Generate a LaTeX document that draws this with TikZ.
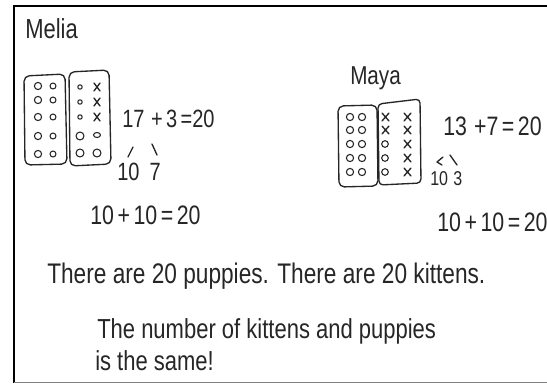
\documentclass[tikz,border=0pt]{standalone}
\usepackage{fontspec}
\setmainfont{Liberation Sans}
\newcommand{\tallt}[1]{\scalebox{1}[1.25]{#1}}
\begin{document}
\begin{tikzpicture}[x=0.75pt,y=-0.75pt,
  hw/.style={inner sep=0pt, anchor=base west, text=black!85},
  big/.style={hw, font=\fontsize{17}{20}\selectfont},
  mid/.style={hw, font=\fontsize{16.5}{20}\selectfont},
  num/.style={hw, font=\fontsize{15}{18}\selectfont},
  pen/.style={line width=1pt, black!85, line cap=round, line join=round},
  ring/.style={pen, line width=0.8pt},
]
\useasboundingbox (0,0) rectangle (547,383);
\fill[white] (0,0) rectangle (547,383);
% frame
\draw[line width=1.8pt, black] (14,383) -- (14,6) -- (547,6);
\draw[line width=0.8pt, gray] (14,382.5) -- (547,382.5);

% ---------- Melia ----------
\node[hw, font=\fontsize{16.5}{20}\selectfont] (melia) at (25,38) {\tallt{Melia}};
\draw[pen, rounded corners=4pt] (24,76) -- (65,74) -- (67,164) -- (25,165) -- cycle;
\draw[pen, rounded corners=4pt] (69,72) -- (109,70) -- (111,164) -- (70,166) -- cycle;
% box 1 circles
\foreach \y in {86,100,117,136,154} {
  \draw[ring] (38,\y) circle (3.6);
  \draw[ring] (53,\y) circle (3.0);
}
% box 2
\foreach \y in {87,102,117} {
  \draw[ring] (80,\y) circle (2.2);
  \draw[pen] (94,\y-4) -- (100,\y+4) (100,\y-4) -- (94,\y+4);
}
\draw[ring] (80,136) circle (4);
\draw[ring] (97,135) ellipse (3.5 and 2.5);
\draw[ring] (80,153) circle (4);
\draw[ring] (97,153) circle (4);

\node[num] (eqA) at (122,127) {\tallt{17\,\,+\,3\,=20}};
\coordinate (la1) at (128,157);
\coordinate (la2) at (133,147);
\coordinate (lb1) at (152,144);
\coordinate (lb2) at (157,155);
\draw[pen] (la1) -- (la2);
\draw[pen] (lb1) -- (lb2);
\node[num] (tenA) at (117,180) {\tallt{10\,\,\,7}};
\node[num, font=\fontsize{16}{19}\selectfont] (sumA) at (90,224) {\tallt{10\,+\,10\,=\,20}};

% ---------- Maya ----------
\node[hw, font=\fontsize{15.5}{18}\selectfont] (maya) at (350,84) {\tallt{Maya}};
\draw[pen, rounded corners=4pt] (338,106) -- (377,105) -- (378,186) -- (339,187) -- cycle;
\draw[pen, rounded corners=3pt] (378,104) -- (420,99) -- (421,183) -- (379,185) -- cycle;
\foreach \y in {117,130,144,158,172} {
  \draw[ring] (350,\y) circle (3.6);
  \draw[ring] (362,\y) circle (3.6);
}
\foreach \y in {117,130} {
  \draw[pen] (382,\y-4) -- (389,\y+4) (389,\y-4) -- (382,\y+4);
}
\foreach \y in {144,158,172} {
  \draw[ring] (385,\y) circle (3.3);
}
\foreach \y in {117,130,144,158,172} {
  \draw[pen] (404,\y-4) -- (411,\y+4) (411,\y-4) -- (404,\y+4);
}
\node[num, font=\fontsize{16}{19}\selectfont] (eqB) at (443,135) {\tallt{13\,\,+7\,=\,20}};
\coordinate (lc1) at (443,157);
\coordinate (lc2) at (437,162);
\coordinate (lc3) at (442,165);
\coordinate (ld1) at (450,155);
\coordinate (ld2) at (457,165);
\draw[pen] (lc1) -- (lc2) -- (lc3);
\draw[pen] (ld1) -- (ld2);
\node[num, font=\fontsize{12}{14}\selectfont] (tenB) at (430,185) {\tallt{10\,\,3}};
\node[num, font=\fontsize{16}{19}\selectfont] (sumB) at (437,231) {\tallt{10\,+\,10\,=\,20}};

% ---------- sentences ----------
\node[big] (s1) at (47,283) {\tallt{There are 20 puppies. There are 20 kittens.}};
\node[mid] (s2) at (97,338) {\tallt{The number of kittens and puppies}};
\node[mid] (s3) at (95,370) {\tallt{is the same!}};
\end{tikzpicture}
\end{document}
